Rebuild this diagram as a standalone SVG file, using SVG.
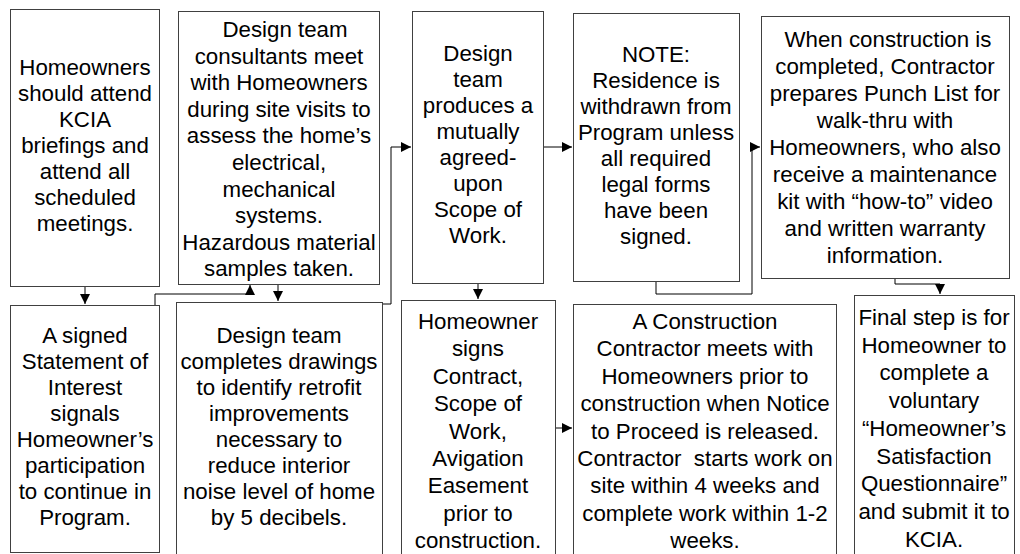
<svg xmlns="http://www.w3.org/2000/svg" width="1020" height="554" viewBox="0 0 1020 554">
<defs>
<marker id="ah" viewBox="0 0 10 10" refX="10" refY="5" markerWidth="10" markerHeight="10" markerUnits="userSpaceOnUse" orient="auto">
<path d="M0,0 L10,5 L0,10 Z" fill="#000"/>
</marker>
<style>
.box{fill:#fff;stroke:#404040;stroke-width:1}
.t{font-family:"Liberation Sans",Arial,sans-serif;font-size:22.3px;fill:#000;text-anchor:middle}
.c{fill:none;stroke:#000;stroke-width:1}
</style>
</defs>
<rect width="1020" height="554" fill="#fff"/>
<g id="connectors">
<path class="c" d="M85,286 V304" marker-end="url(#ah)"/>
<path class="c" d="M155,305 V294 H250 V285" marker-end="url(#ah)"/>
<path class="c" d="M278,284 V301" marker-end="url(#ah)"/>
<path class="c" d="M382,304 H391 V147 H411" marker-end="url(#ah)"/>
<path class="c" d="M544,147 H572" marker-end="url(#ah)"/>
<path class="c" d="M656,281 V294 H752 V147 H760" marker-end="url(#ah)"/>
<path class="c" d="M478,284 V299" marker-end="url(#ah)"/>
<path class="c" d="M555,428 H572" marker-end="url(#ah)"/>
<path class="c" d="M895,278 V284 H940 V294" marker-end="url(#ah)"/>
</g>
<g id="n1">
<rect class="box" x="10.5" y="9.5" width="149" height="277"/>
<text class="t" x="85" y="75">Homeowners</text>
<text class="t" x="85" y="101">should attend</text>
<text class="t" x="85" y="127">KCIA</text>
<text class="t" x="85" y="153">briefings and</text>
<text class="t" x="85" y="179">attend all</text>
<text class="t" x="85" y="205">scheduled</text>
<text class="t" x="85" y="231">meetings.</text>
</g>
<g id="n2">
<rect class="box" x="178.5" y="11.5" width="201" height="273"/>
<text class="t" x="285" y="37">Design team</text>
<text class="t" x="279" y="63.6">consultants meet</text>
<text class="t" x="279" y="90.2">with Homeowners</text>
<text class="t" x="279" y="116.8">during site visits to</text>
<text class="t" x="279" y="143.4">assess the home’s</text>
<text class="t" x="279" y="170">electrical,</text>
<text class="t" x="279" y="196.6">mechanical</text>
<text class="t" x="279" y="223.2">systems.</text>
<text class="t" x="279" y="249.8">Hazardous material</text>
<text class="t" x="279" y="276.4">samples taken.</text>
</g>
<g id="n3">
<rect class="box" x="412.5" y="11.5" width="131" height="272"/>
<text class="t" x="478" y="61">Design</text>
<text class="t" x="478" y="87">team</text>
<text class="t" x="478" y="113">produces a</text>
<text class="t" x="478" y="139">mutually</text>
<text class="t" x="478" y="165">agreed-</text>
<text class="t" x="478" y="191">upon</text>
<text class="t" x="478" y="217">Scope of</text>
<text class="t" x="478" y="243">Work.</text>
</g>
<g id="n4">
<rect class="box" x="573.5" y="13.5" width="166" height="268"/>
<text class="t" x="656" y="62">NOTE:</text>
<text class="t" x="656" y="88">Residence is</text>
<text class="t" x="656" y="114">withdrawn from</text>
<text class="t" x="656" y="140">Program unless</text>
<text class="t" x="656" y="166">all required</text>
<text class="t" x="656" y="192">legal forms</text>
<text class="t" x="656" y="218">have been</text>
<text class="t" x="656" y="244">signed.</text>
</g>
<g id="n5">
<rect class="box" x="761.5" y="16.5" width="248" height="262"/>
<text class="t" x="888" y="47">When construction is</text>
<text class="t" x="885" y="74">completed, Contractor</text>
<text class="t" x="885" y="101">prepares Punch List for</text>
<text class="t" x="885" y="128">walk-thru with</text>
<text class="t" x="885" y="155">Homeowners, who also</text>
<text class="t" x="885" y="182">receive a maintenance</text>
<text class="t" x="885" y="209">kit with “how-to” video</text>
<text class="t" x="885" y="236">and written warranty</text>
<text class="t" x="885" y="263">information.</text>
</g>
<g id="n6">
<rect class="box" x="10.5" y="305.5" width="149" height="247"/>
<text class="t" x="85" y="343">A signed</text>
<text class="t" x="85" y="369">Statement of</text>
<text class="t" x="85" y="395">Interest</text>
<text class="t" x="85" y="421">signals</text>
<text class="t" x="85" y="447">Homeowner’s</text>
<text class="t" x="85" y="473">participation</text>
<text class="t" x="85" y="499">to continue in</text>
<text class="t" x="85" y="525">Program.</text>
</g>
<g id="n7">
<rect class="box" x="176.5" y="302.5" width="206" height="260"/>
<text class="t" x="279" y="343">Design team</text>
<text class="t" x="279" y="369">completes drawings</text>
<text class="t" x="279" y="395">to identify retrofit</text>
<text class="t" x="279" y="421">improvements</text>
<text class="t" x="279" y="447">necessary to</text>
<text class="t" x="279" y="473">reduce interior</text>
<text class="t" x="279" y="499">noise level of home</text>
<text class="t" x="279" y="525">by 5 decibels.</text>
</g>
<g id="n8">
<rect class="box" x="401.5" y="300.5" width="154" height="260"/>
<text class="t" x="478" y="329">Homeowner</text>
<text class="t" x="478" y="356.4">signs</text>
<text class="t" x="478" y="383.8">Contract,</text>
<text class="t" x="478" y="411.2">Scope of</text>
<text class="t" x="478" y="438.6">Work,</text>
<text class="t" x="478" y="466">Avigation</text>
<text class="t" x="478" y="493.4">Easement</text>
<text class="t" x="478" y="520.8">prior to</text>
<text class="t" x="478" y="548.2">construction.</text>
</g>
<g id="n9">
<rect class="box" x="573.5" y="304.5" width="263" height="260"/>
<text class="t" x="705" y="329">A Construction</text>
<text class="t" x="705" y="356.4">Contractor meets with</text>
<text class="t" x="705" y="383.8">Homeowners prior to</text>
<text class="t" x="705" y="411.2">construction when Notice</text>
<text class="t" x="705" y="438.6">to Proceed is released.</text>
<text class="t" x="705" y="466" xml:space="preserve">Contractor  starts work on</text>
<text class="t" x="705" y="493.4">site within 4 weeks and</text>
<text class="t" x="705" y="520.8">complete work within 1-2</text>
<text class="t" x="705" y="548.2">weeks.</text>
</g>
<g id="n10">
<rect class="box" x="854.5" y="295.5" width="160" height="270"/>
<text class="t" x="934" y="325">Final step is for</text>
<text class="t" x="934" y="352.7">Homeowner to</text>
<text class="t" x="934" y="380.4">complete a</text>
<text class="t" x="934" y="408.1">voluntary</text>
<text class="t" x="934" y="435.8">“Homeowner’s</text>
<text class="t" x="934" y="463.5">Satisfaction</text>
<text class="t" x="934" y="491.2">Questionnaire”</text>
<text class="t" x="934" y="518.9">and submit it to</text>
<text class="t" x="934" y="546.6">KCIA.</text>
</g>
</svg>
